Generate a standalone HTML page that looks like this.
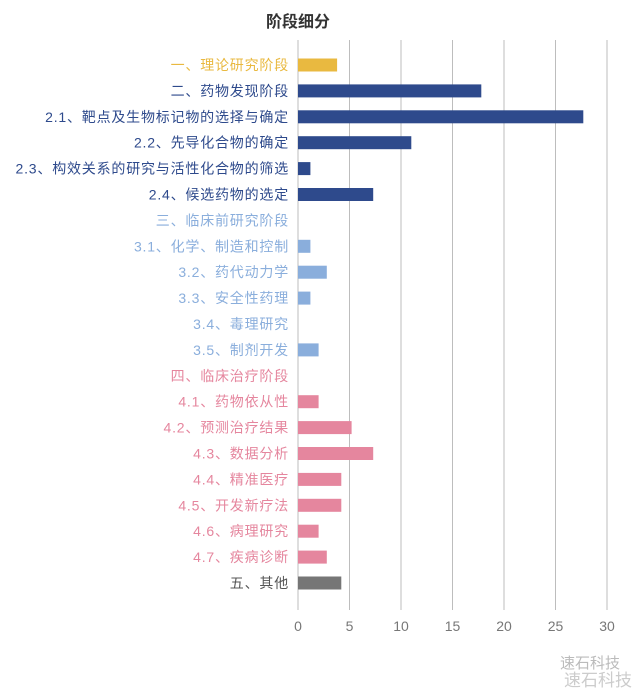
<!DOCTYPE html>
<html><head><meta charset="utf-8"><style>
html,body{margin:0;padding:0;background:#fff;}
svg{display:block;font-family:"Liberation Sans","Noto Sans CJK SC",sans-serif;}
</style></head><body>
<svg width="640" height="692" viewBox="0 0 640 692">
<text x="298" y="27" text-anchor="middle" font-size="16" font-weight="bold" fill="#333">阶段细分</text>
<g stroke="#bdbdbd" stroke-width="1">
<line x1="298" y1="40" x2="298" y2="610"/><line x1="349.5" y1="40" x2="349.5" y2="610"/>
<line x1="401" y1="40" x2="401" y2="610"/><line x1="452.5" y1="40" x2="452.5" y2="610"/>
<line x1="504" y1="40" x2="504" y2="610"/><line x1="555.5" y1="40" x2="555.5" y2="610"/>
<line x1="607" y1="40" x2="607" y2="610"/>
</g>
<g font-size="14" fill="#777" text-anchor="middle">
<text x="298" y="631">0</text><text x="349.5" y="631">5</text><text x="401" y="631">10</text>
<text x="452.5" y="631">15</text><text x="504" y="631">20</text><text x="555.5" y="631">25</text><text x="607" y="631">30</text>
</g>
<g font-size="14" letter-spacing="0.8" text-anchor="end">
<text x="289" y="70" fill="#E9B940">一、理论研究阶段</text>
<text x="289" y="95.9" fill="#2E4A8C">二、药物发现阶段</text>
<text x="289" y="121.8" fill="#2E4A8C">2.1、靶点及生物标记物的选择与确定</text>
<text x="289" y="147.7" fill="#2E4A8C">2.2、先导化合物的确定</text>
<text x="289" y="173.6" fill="#2E4A8C">2.3、构效关系的研究与活性化合物的筛选</text>
<text x="289" y="199.5" fill="#2E4A8C">2.4、候选药物的选定</text>
<text x="289" y="225.4" fill="#8AAEDC">三、临床前研究阶段</text>
<text x="289" y="251.3" fill="#8AAEDC">3.1、化学、制造和控制</text>
<text x="289" y="277.2" fill="#8AAEDC">3.2、药代动力学</text>
<text x="289" y="303.1" fill="#8AAEDC">3.3、安全性药理</text>
<text x="289" y="329" fill="#8AAEDC">3.4、毒理研究</text>
<text x="289" y="354.9" fill="#8AAEDC">3.5、制剂开发</text>
<text x="289" y="380.8" fill="#E5869E">四、临床治疗阶段</text>
<text x="289" y="406.7" fill="#E5869E">4.1、药物依从性</text>
<text x="289" y="432.6" fill="#E5869E">4.2、预测治疗结果</text>
<text x="289" y="458.5" fill="#E5869E">4.3、数据分析</text>
<text x="289" y="484.4" fill="#E5869E">4.4、精准医疗</text>
<text x="289" y="510.3" fill="#E5869E">4.5、开发新疗法</text>
<text x="289" y="536.2" fill="#E5869E">4.6、病理研究</text>
<text x="289" y="562.1" fill="#E5869E">4.7、疾病诊断</text>
<text x="289" y="588" fill="#555">五、其他</text>
</g>
<g>
<rect x="298" y="58.5" width="39.1" height="13" fill="#E9B940"/>
<rect x="298" y="84.4" width="183.3" height="13" fill="#2E4A8C"/>
<rect x="298" y="110.3" width="285.3" height="13" fill="#2E4A8C"/>
<rect x="298" y="136.2" width="113.3" height="13" fill="#2E4A8C"/>
<rect x="298" y="162.1" width="12.4" height="13" fill="#2E4A8C"/>
<rect x="298" y="188" width="75.2" height="13" fill="#2E4A8C"/>
<rect x="298" y="239.8" width="12.4" height="13" fill="#8AAEDC"/>
<rect x="298" y="265.7" width="28.8" height="13" fill="#8AAEDC"/>
<rect x="298" y="291.6" width="12.4" height="13" fill="#8AAEDC"/>
<rect x="298" y="343.4" width="20.6" height="13" fill="#8AAEDC"/>
<rect x="298" y="395.2" width="20.6" height="13" fill="#E5869E"/>
<rect x="298" y="421.1" width="53.6" height="13" fill="#E5869E"/>
<rect x="298" y="447" width="75.2" height="13" fill="#E5869E"/>
<rect x="298" y="472.9" width="43.3" height="13" fill="#E5869E"/>
<rect x="298" y="498.8" width="43.3" height="13" fill="#E5869E"/>
<rect x="298" y="524.7" width="20.6" height="13" fill="#E5869E"/>
<rect x="298" y="550.6" width="28.8" height="13" fill="#E5869E"/>
<rect x="298" y="576.5" width="43.3" height="13" fill="#767676"/>
</g>
<text x="620" y="668" text-anchor="end" font-size="15" fill="#bbb">速石科技</text>
<text x="632" y="686" text-anchor="end" font-size="17" fill="#ccc">速石科技</text>
</svg>
</body></html>
